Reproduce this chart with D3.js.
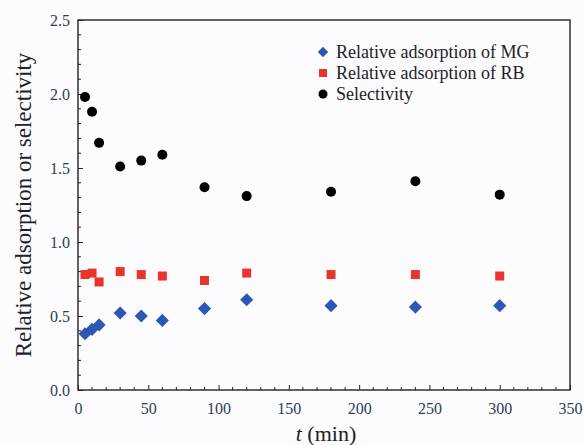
<!DOCTYPE html>
<html>
<head>
<meta charset="utf-8">
<script src="https://cdn.jsdelivr.net/npm/d3@7"></script>
<style>
  body { margin: 0; background: #fcfcfe; }
  svg text { font-family: "Liberation Serif", "Times New Roman", serif; }
</style>
</head>
<body>
<div id="plot"></div>
<script>
// data
const times = [5, 10, 15, 30, 45, 60, 90, 120, 180, 240, 300];
const mgValues = [0.38, 0.41, 0.44, 0.52, 0.50, 0.47, 0.55, 0.61, 0.57, 0.56, 0.57];
const rbValues = [0.78, 0.79, 0.73, 0.80, 0.78, 0.77, 0.74, 0.79, 0.78, 0.78, 0.77];
const selValues = [1.98, 1.88, 1.67, 1.51, 1.55, 1.59, 1.37, 1.31, 1.34, 1.41, 1.32];
const xTicks = [0, 50, 100, 150, 200, 250, 300, 350];
const yTicks = [0.0, 0.5, 1.0, 1.5, 2.0, 2.5];
const seriesNames = ["Relative adsorption of MG", "Relative adsorption of RB", "Selectivity"];

const width = 583;
const height = 445;
const margin = {left: 78, right: 13, top: 20, bottom: 55};
const serif = "'Liberation Serif', 'Times New Roman', serif";

let svg = d3.select("#plot")
    .append("svg")
    .attr("width", width)
    .attr("height", height)
    .attr("font-family", serif);

let xScale = d3.scaleLinear()
    .domain([0, 350])
    .range([margin.left, width - margin.right]);

let yScale = d3.scaleLinear()
    .domain([0, 2.5])
    .range([height - margin.bottom, margin.top]);

// minor ticks first (inward)
let minorX = d3.range(0, 351, 10).filter(v => v % 50 !== 0);
let minorY = d3.range(0, 26, 1).map(v => v / 10).filter(v => Math.round(v * 10) % 5 !== 0);

svg.append("g")
    .selectAll("line")
    .data(minorX)
    .enter()
    .append("line")
    .attr("x1", d => xScale(d))
    .attr("x2", d => xScale(d))
    .attr("y1", yScale(0))
    .attr("y2", yScale(0) - 3)
    .attr("stroke", "#222")
    .attr("stroke-width", 1);

svg.append("g")
    .selectAll("line")
    .data(minorY)
    .enter()
    .append("line")
    .attr("x1", xScale(0))
    .attr("x2", xScale(0) + 3)
    .attr("y1", d => yScale(d))
    .attr("y2", d => yScale(d))
    .attr("stroke", "#222")
    .attr("stroke-width", 1);

let xAxis = svg.append("g")
    .attr("class", "axis axis--x")
    .attr("transform", "translate(0," + yScale(0) + ")")
    .call(d3.axisBottom(xScale)
        .tickValues(xTicks)
        .tickSizeInner(-5)
        .tickSizeOuter(0)
        .tickPadding(13)
        .tickFormat(d3.format("d")));

let yAxis = svg.append("g")
    .attr("class", "axis axis--y")
    .attr("transform", "translate(" + xScale(0) + ",0)")
    .call(d3.axisLeft(yScale)
        .tickValues(yTicks)
        .tickSizeInner(-5)
        .tickSizeOuter(0)
        .tickPadding(8)
        .tickFormat(d3.format(".1f")));

svg.selectAll(".axis").attr("font-family", serif);
svg.selectAll(".axis .domain").remove();
svg.selectAll(".axis line").attr("stroke", "#222");
svg.selectAll(".axis text")
    .style("font-size", "16px")
    .attr("fill", "#2c3e52");

// frame
svg.append("rect")
    .attr("x", xScale(0))
    .attr("y", yScale(2.5))
    .attr("width", xScale(350) - xScale(0))
    .attr("height", yScale(0) - yScale(2.5))
    .attr("fill", "none")
    .attr("stroke", "#2a211c")
    .attr("stroke-width", 1.4);

// axis titles
svg.append("text")
    .attr("text-anchor", "middle")
    .attr("transform", `translate(31, 205) rotate(-90)`)
    .style("font-size", "23px")
    .attr("fill", "#1c2228")
    .text("Relative adsorption or selectivity");

let xLabel = svg.append("text")
    .attr("text-anchor", "middle")
    .attr("x", (xScale(0) + xScale(350)) / 2 + 2)
    .attr("y", 441)
    .style("font-size", "22px")
    .attr("fill", "#1c2228");
xLabel.append("tspan").style("font-style", "italic").text("t");
xLabel.append("tspan").text("  (min)");

// markers
const blue = "#2f56b5";
const red = "#e8342a";
const diamond = d3.symbol().type(d3.symbolDiamond2).size(110);

svg.append("g")
    .selectAll("rect")
    .data(times.map((t, i) => ({t: t, v: rbValues[i]})))
    .enter()
    .append("rect")
    .attr("x", d => xScale(d.t) - 4.5)
    .attr("y", d => yScale(d.v) - 4.5)
    .attr("width", 9)
    .attr("height", 9)
    .attr("fill", red);

svg.append("g")
    .selectAll("path")
    .data(times.map((t, i) => ({t: t, v: mgValues[i]})))
    .enter()
    .append("path")
    .attr("d", diamond)
    .attr("transform", d => `translate(${xScale(d.t)},${yScale(d.v)})`)
    .attr("fill", blue);

svg.append("g")
    .selectAll("circle")
    .data(times.map((t, i) => ({t: t, v: selValues[i]})))
    .enter()
    .append("circle")
    .attr("cx", d => xScale(d.t))
    .attr("cy", d => yScale(d.v))
    .attr("r", 5)
    .attr("fill", "#000");

// legend
let legend = svg.append("g")
    .attr("transform", "translate(323,52)");

seriesNames.forEach((name, i) => {
    let row = legend.append("g").attr("transform", `translate(0, ${i * 21})`);
    if (i === 0) {
        row.append("path")
            .attr("d", d3.symbol().type(d3.symbolDiamond2).size(70))
            .attr("fill", blue);
    } else if (i === 1) {
        row.append("rect")
            .attr("x", -4).attr("y", -4)
            .attr("width", 8).attr("height", 8)
            .attr("fill", red);
    } else {
        row.append("circle").attr("r", 4.5).attr("fill", "#000");
    }
    row.append("text")
        .attr("x", 13)
        .attr("y", 6)
        .style("font-size", "18px")
        .attr("fill", "#1c2228")
        .text(name);
});
</script>
</body>
</html>
